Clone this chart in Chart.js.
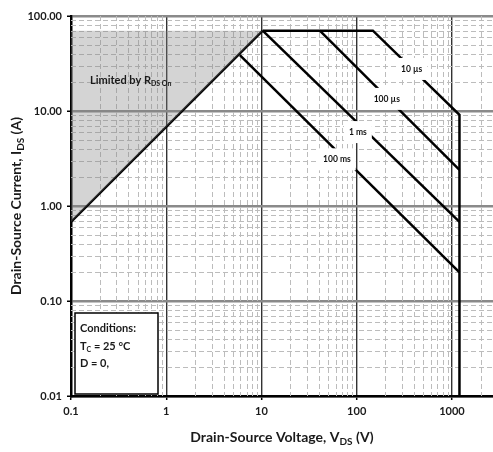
<!DOCTYPE html>
<html><head><meta charset="utf-8">
<script src="https://cdn.jsdelivr.net/npm/chart.js@4.4.0/dist/chart.umd.min.js"></script>
<style>html,body{margin:0;padding:0;background:#fff}canvas{display:block}</style>
</head><body>
<canvas id="c" width="493" height="452"></canvas>
<script>
// ---- tick values / labels ----
const xTickValues = [0.1, 1, 10, 100, 1000];
const xTickLabels = ['0.1', '1', '10', '100', '1000'];
const yTickValues = [0.01, 0.1, 1, 10, 100];
const yTickLabels = ['0.01', '0.10', '1.00', '10.00', '100.00'];

// ---- SOA boundary series (V in volts, I in amps) ----
const rdsV = [0.1, 10.3];
const rdsI = [0.68, 70];
const shadeV = [0.1, 10.3];
const shadeI = [70, 70];
const us10V = [10.3, 148, 1200, 1200];
const us10I = [70, 70, 9.1, 0.01];
const us100V = [41, 1200];
const us100I = [70, 2.4];
const ms1V = [10.3, 1200];
const ms1I = [70, 0.68];
const ms100V = [5.93, 1200];
const ms100I = [38.8, 0.2];

// ---- pulse labels (anchored in data space) ----
const pulseLabels = ['10 µs', '100 µs', '1 ms', '100 ms'];
const pulseLabelV = [378, 207, 103, 62];
const pulseLabelI = [27.7, 13.4, 6.0, 3.1];

const FONT = 'Lato';
const pts = (vs, is) => vs.map((v, i) => ({x: v, y: is[i]}));

function minorValues(lo, hi) {
  const out = [];
  for (let d = lo; d < hi; d *= 10) {
    for (let k = 2; k <= 9; k++) { const v = +(d * k).toPrecision(3); if (v < hi) out.push(v); }
  }
  return out;
}

function richText(ctx, parts, x, y, size, align) {
  let w = 0;
  const subSize = Math.round(size * 0.68);
  parts.forEach(([t, sub]) => { ctx.font = `bold ${sub ? subSize : size}px ${FONT}`; w += ctx.measureText(t).width; });
  let cx = align === 'center' ? x - w / 2 : x;
  ctx.textAlign = 'left';
  ctx.textBaseline = 'alphabetic';
  parts.forEach(([t, sub]) => {
    ctx.font = `bold ${sub ? subSize : size}px ${FONT}`;
    ctx.fillText(t, cx, sub ? y + size * 0.22 : y);
    cx += ctx.measureText(t).width;
  });
}

const decorPlugin = {
  id: 'decor',
  beforeDatasetsDraw(chart) {
    const {ctx, chartArea: a, scales: {x, y}} = chart;
    ctx.save();
    ctx.beginPath(); ctx.rect(a.left, a.top, a.right - a.left, a.bottom - a.top); ctx.clip();
    ctx.strokeStyle = '#bcbcbc'; ctx.lineWidth = 1; ctx.setLineDash([5, 3]);
    minorValues(0.1, 2700).forEach(v => {
      const px = Math.round(x.getPixelForValue(v)) + 0.5;
      ctx.beginPath(); ctx.moveTo(px, a.top); ctx.lineTo(px, a.bottom); ctx.stroke();
    });
    minorValues(0.01, 100).forEach(v => {
      const py = Math.round(y.getPixelForValue(v)) + 0.5;
      ctx.beginPath(); ctx.moveTo(a.left, py); ctx.lineTo(a.right, py); ctx.stroke();
    });
    ctx.restore();
  },
  afterDatasetsDraw(chart) {
    const {ctx, chartArea: a, scales: {x, y}} = chart;
    ctx.save();
    // pulse labels
    ctx.font = `bold 8.5px ${FONT}`;
    pulseLabels.forEach((t, i) => {
      const px = x.getPixelForValue(pulseLabelV[i]);
      const py = y.getPixelForValue(pulseLabelI[i]);
      const w = ctx.measureText(t).width + 10;
      ctx.fillStyle = '#fff';
      ctx.fillRect(px - w / 2, py - 11, w, 22);
      ctx.fillStyle = '#111';
      ctx.textAlign = 'center'; ctx.textBaseline = 'middle';
      ctx.fillText(t, px, py);
    });
    // Limited by R_DS On
    ctx.fillStyle = '#1a1a1a';
    richText(ctx, [['Limited by R', false], ['DS On', true]], a.left + 19, a.top + 68, 11, 'left');
    // Conditions box
    const bx = a.left + 4, by = a.bottom - 83, bw = 83, bh = 81;
    ctx.fillStyle = '#fff';
    ctx.fillRect(bx, by, bw, bh);
    ctx.strokeStyle = '#000'; ctx.lineWidth = 1.5; ctx.setLineDash([]);
    ctx.strokeRect(bx, by, bw, bh);
    ctx.fillStyle = '#1a1a1a';
    richText(ctx, [['Conditions:', false]], bx + 5, by + 19, 11, 'left');
    richText(ctx, [['T', false], ['C', true], [' = 25 °C', false]], bx + 5, by + 37, 11, 'left');
    richText(ctx, [['D = 0,', false]], bx + 5, by + 54, 11, 'left');
    ctx.restore();
  },
  afterDraw(chart) {
    const {ctx, chartArea: a} = chart;
    ctx.save();
    ctx.fillStyle = '#1a1a1a';
    richText(ctx, [['Drain-Source Voltage, V', false], ['DS', true], [' (V)', false]], (a.left + a.right) / 2, 442, 14, 'center');
    ctx.translate(21, (a.top + a.bottom) / 2);
    ctx.rotate(-Math.PI / 2);
    richText(ctx, [['Drain-Source Current, I', false], ['DS', true], [' (A)', false]], 0, 0, 14, 'center');
    ctx.restore();
  }
};

const lineDs = (data) => ({
  data, showLine: true, pointRadius: 0, borderColor: '#000', borderWidth: 2.5,
  fill: false, tension: 0, borderJoinStyle: 'miter'
});

new Chart(document.getElementById('c'), {
  type: 'scatter',
  data: {
    datasets: [
      {data: pts(shadeV, shadeI), showLine: true, pointRadius: 0, borderWidth: 0,
       borderColor: 'rgba(0,0,0,0)', backgroundColor: 'rgba(128,128,128,0.34)', fill: 1},
      lineDs(pts(rdsV, rdsI)),
      lineDs(pts(ms100V, ms100I)),
      lineDs(pts(ms1V, ms1I)),
      lineDs(pts(us100V, us100I)),
      lineDs(pts(us10V, us10I))
    ]
  },
  options: {
    responsive: false, devicePixelRatio: 1, animation: false,
    layout: {padding: {top: 16, right: 0, left: 0, bottom: 0}},
    plugins: {legend: {display: false}, tooltip: {enabled: false}},
    scales: {
      x: {
        type: 'logarithmic', min: 0.1, max: 2700,
        afterBuildTicks: s => { s.ticks = xTickValues.map(v => ({value: v, major: true})); },
        afterFit: s => { s.height = 56; },
        ticks: {
          autoSkip: false, maxRotation: 0, padding: 5, color: '#1a1a1a',
          font: {family: FONT, size: 11, weight: 'bold'},
          callback: (v) => { const i = xTickValues.indexOf(v); return i >= 0 ? xTickLabels[i] : ''; }
        },
        grid: {color: '#333', lineWidth: 1.4, tickLength: 4, tickColor: '#000', tickWidth: 1.5},
        border: {color: '#000', width: 2.5}
      },
      y: {
        type: 'logarithmic', min: 0.01, max: 100,
        afterBuildTicks: s => { s.ticks = yTickValues.map(v => ({value: v, major: true})); },
        afterFit: s => { s.width = 71; },
        ticks: {
          autoSkip: false, padding: 5, color: '#1a1a1a',
          font: {family: FONT, size: 11, weight: 'bold'},
          callback: (v) => { const i = yTickValues.indexOf(v); return i >= 0 ? yTickLabels[i] : ''; }
        },
        grid: {color: '#8a8a8a', lineWidth: 2.5, tickLength: 4, tickColor: '#000', tickWidth: 1.5},
        border: {color: '#000', width: 2.5}
      }
    }
  },
  plugins: [decorPlugin]
});
</script>
</body></html>
